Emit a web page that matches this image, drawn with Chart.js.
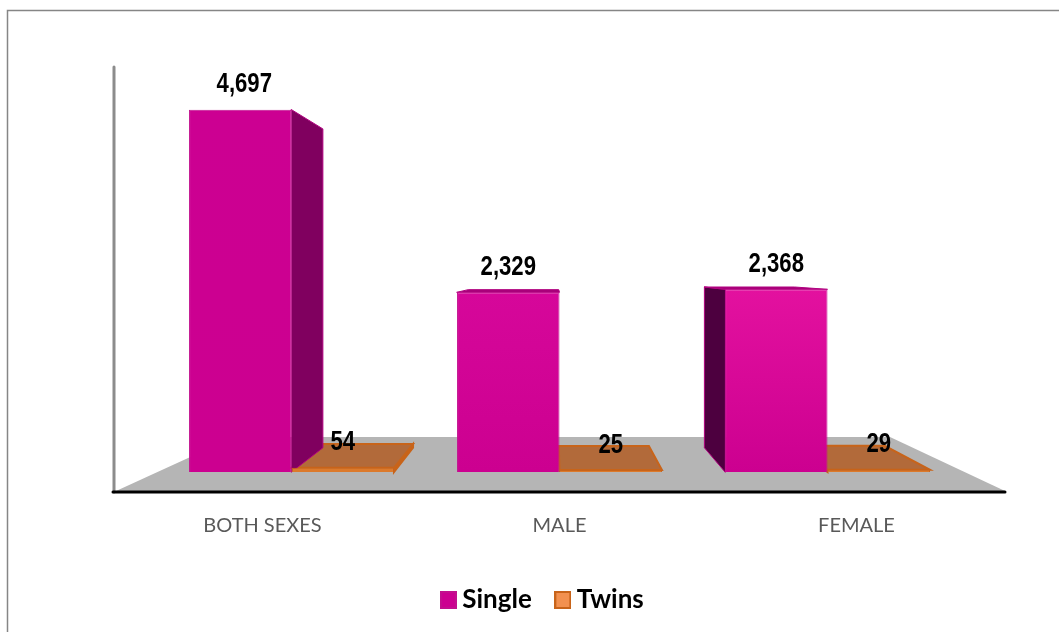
<!DOCTYPE html>
<html>
<head>
<meta charset="utf-8">
<title>Single and twin births</title>
<script src="https://cdn.jsdelivr.net/npm/chart.js@4"></script>
<style>
    html, body { margin: 0; padding: 0; background: #fff; overflow: hidden; }
    canvas { display: block; }
</style>
</head>
<body>
<canvas id="birthsChart" width="1059" height="632"></canvas>
<script>
// Chart data
const categories = ['BOTH SEXES', 'MALE', 'FEMALE'];
const singleValues = [4697, 2329, 2368];
const twinsValues = [54, 25, 29];

// Bar colours, one per category
const singleTopColors = ['#cc0092', '#d6079a', '#e3119f'];
const singleBottomColor = '#cc0090';
const singleSideColors = ['#80005f', '#80005f', '#4d003f'];
const singleCapColor = '#a8007a';

// Fake 3D: everything shrinks towards one vanishing point
const vanishX = 553;
const vanishY = 270;
const depth = 0.88;
const categoryShift = 29; // outer groups lean towards the middle
const floorOffset = 20;   // axis line sits below the front of the bars

function backX(x) { return vanishX + (x - vanishX) * depth; }
function backY(y) { return vanishY + (y - vanishY) * depth; }

function fillPolygon(ctx, points, fill, stroke, strokeWidth = 2) {
    ctx.beginPath();
    points.forEach((p, i) => i ? ctx.lineTo(p[0], p[1]) : ctx.moveTo(p[0], p[1]));
    ctx.closePath();
    ctx.fillStyle = fill;
    ctx.fill();
    if (stroke) {
        ctx.strokeStyle = stroke;
        ctx.lineWidth = strokeWidth;
        ctx.stroke();
    }
}

// Draws the faces a bar would show behind its front
function drawBarFaces(ctx, bar, topColor, sideColor, stroke, strokeWidth) {
    const left = bar.x - bar.width / 2;
    const right = bar.x + bar.width / 2;
    const top = bar.y;
    const base = bar.base;

    if (backX(left) < left) {
        fillPolygon(ctx, [[left, top], [backX(left), backY(top)], [backX(left), backY(base)], [left, base]], sideColor, stroke, strokeWidth);
    }
    if (backX(right) > right) {
        fillPolygon(ctx, [[right, top], [backX(right), backY(top)], [backX(right), backY(base)], [right, base]], sideColor, stroke, strokeWidth);
    }
    // The top face only shows when it rises behind the front edge
    if (backY(top) < top) {
        fillPolygon(ctx, [[left, top], [right, top], [backX(right), backY(top)], [backX(left), backY(top)]], topColor, stroke, strokeWidth);
    }
}

// Legend swatch as a small canvas, so it can be larger than the gap Chart.js leaves
function makeSwatch(fill, stroke) {
    const swatch = document.createElement('canvas');
    swatch.width = 17;
    swatch.height = 18;
    const ctx = swatch.getContext('2d');
    ctx.fillStyle = stroke;
    ctx.fillRect(0, 0, 17, 18);
    ctx.fillStyle = fill;
    ctx.fillRect(2, 2, 13, 14);
    return swatch;
}

const scenePlugin = {
    id: 'scene',
    afterLayout(chart) {
        // The legend is centred on the whole picture, not on the plot
        chart.legend.left -= 28;
    },
    afterDatasetsUpdate(chart) {
        // Move the groups off their label centres, as the perspective does
        chart.data.datasets.forEach((ds, d) => {
            chart.getDatasetMeta(d).data.forEach((bar, i) => {
                bar.x += (1 - i) * categoryShift;
            });
        });
    },
    beforeDatasetsDraw(chart) {
        const ctx = chart.ctx;
        const area = chart.chartArea;
        const axisY = area.bottom + floorOffset;
        const floorTop = area.bottom - 35;

        ctx.save();

        // Outer frame, cropped on the right and at the bottom
        ctx.strokeStyle = '#868686';
        ctx.lineWidth = 1.5;
        ctx.beginPath();
        ctx.moveTo(7.5, chart.height);
        ctx.lineTo(7.5, 10.5);
        ctx.lineTo(chart.width, 10.5);
        ctx.stroke();

        // Floor
        fillPolygon(ctx, [
            [area.left + 2, axisY - 1],
            [area.right, axisY - 1],
            [area.right - 115, floorTop],
            [area.left + 120, floorTop]
        ], '#b5b5b5');

        // Axis lines
        ctx.lineCap = 'round';
        ctx.strokeStyle = '#8c8c8c';
        ctx.lineWidth = 3;
        ctx.beginPath();
        ctx.moveTo(area.left, area.top);
        ctx.lineTo(area.left, axisY);
        ctx.stroke();
        ctx.strokeStyle = '#000';
        ctx.beginPath();
        ctx.moveTo(area.left - 1, axisY);
        ctx.lineTo(area.right, axisY);
        ctx.stroke();

        // Back faces: twins first, the tall bars stand in front of them
        chart.getDatasetMeta(1).data.forEach(bar => {
            drawBarFaces(ctx, bar, '#b26a3a', '#c8641a', '#c8641a', 2);
        });
        chart.getDatasetMeta(0).data.forEach((bar, i) => {
            drawBarFaces(ctx, bar, singleCapColor, singleSideColors[i], '#b0007f', 1);
        });

        ctx.restore();
    },
    afterDatasetsDraw(chart) {
        // Value labels above each bar, squeezed to a narrow face
        const ctx = chart.ctx;
        ctx.font = 'bold 27px "Liberation Sans", sans-serif';
        ctx.fillStyle = '#000';
        ctx.textAlign = 'center';
        ctx.textBaseline = 'middle';
        chart.data.datasets.forEach((ds, d) => {
            chart.getDatasetMeta(d).data.forEach((bar, i) => {
                ctx.save();
                ctx.translate(bar.x + (d === 0 && i === 0 ? 4 : 0), bar.y - 25);
                ctx.scale(0.82, 1);
                ctx.fillText(ds.data[i].toLocaleString('en-US'), 0, 0);
                ctx.restore();
            });
        });
    }
};

function singleFill(context) {
    const i = context.dataIndex;
    const area = context.chart.chartArea;
    if (i === undefined || !area) return singleBottomColor;
    const bar = context.chart.scales.y.getPixelForValue(singleValues[i]);
    const gradient = context.chart.ctx.createLinearGradient(0, bar, 0, area.bottom);
    gradient.addColorStop(0, singleTopColors[i]);
    gradient.addColorStop(1, singleBottomColor);
    return gradient;
}

const legendSwatches = [makeSwatch('#cc0090', '#c2108e'), makeSwatch('#f29150', '#c8641a')];

new Chart(document.getElementById('birthsChart'), {
    type: 'bar',
    data: {
        labels: categories,
        datasets: [
            {
                label: 'Single',
                data: singleValues,
                backgroundColor: singleFill,
                borderColor: '#c2108e',
                borderWidth: 1
            },
            {
                label: 'Twins',
                data: twinsValues,
                backgroundColor: '#dc7a2c',
                borderColor: '#c8641a',
                borderWidth: 1
            }
        ]
    },
    options: {
        responsive: false,
        animation: false,
        categoryPercentage: 0.69,
        barPercentage: 1,
        layout: { padding: { top: 67, left: 114, right: 54, bottom: 9 } },
        plugins: {
            title: { display: false },
            tooltip: { enabled: false },
            legend: {
                position: 'bottom',
                labels: {
                    usePointStyle: true,
                    pointStyleWidth: 2,
                    boxHeight: 17,
                    padding: 30,
                    color: '#000',
                    font: { family: 'Lato, "Open Sans", sans-serif', size: 26, weight: 'bold' },
                    generateLabels(chart) {
                        const items = Chart.defaults.plugins.legend.labels.generateLabels(chart);
                        items.forEach((item, i) => { item.pointStyle = legendSwatches[i]; });
                        return items;
                    }
                }
            }
        },
        scales: {
            x: {
                grid: { display: false },
                border: { display: false },
                afterFit(scale) {
                    // Let the plot run down closer to the legend
                    scale.height -= 15;
                },
                ticks: {
                    padding: 34,
                    maxRotation: 0,
                    color: '#595959',
                    font: { family: 'Lato, "Open Sans", sans-serif', size: 20 }
                }
            },
            y: {
                display: false,
                min: 0,
                max: 5250
            }
        }
    },
    plugins: [scenePlugin]
});
</script>
</body>
</html>
